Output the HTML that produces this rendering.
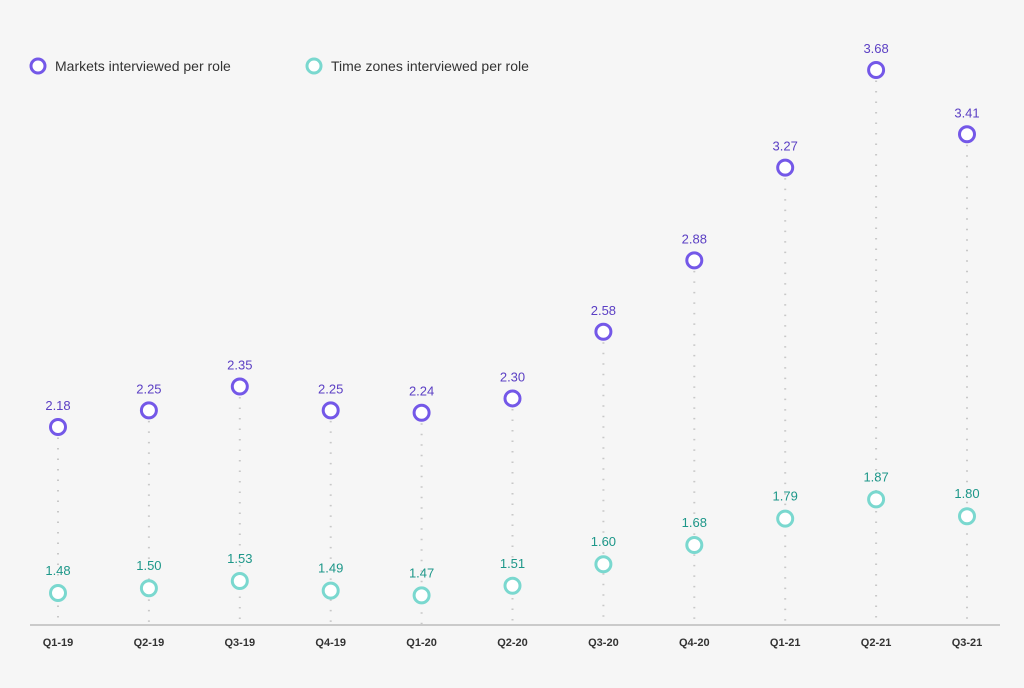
<!DOCTYPE html><html><head><style>body{margin:0;background:#f6f6f6}</style></head><body>
<svg width="1024" height="683" xmlns="http://www.w3.org/2000/svg" font-family="Liberation Sans, sans-serif">
<rect width="1024" height="683" fill="#f6f6f6"/>
<circle cx="38" cy="66" r="7" fill="#fff" stroke="#7458e8" stroke-width="3"/>
<text x="55" y="71" font-size="14" fill="#333">Markets interviewed per role</text>
<circle cx="314" cy="66" r="7" fill="#fff" stroke="#7ad8cf" stroke-width="3"/>
<text x="331" y="71" font-size="14" fill="#333">Time zones interviewed per role</text>
<line x1="30" y1="625" x2="1000" y2="625" stroke="#bbb" stroke-width="1.5"/>
<g id="g"></g>
</svg>
<script>
var L=["Q1-19","Q2-19","Q3-19","Q4-19","Q1-20","Q2-20","Q3-20","Q4-20","Q1-21","Q2-21","Q3-21"];
var P=[2.18,2.25,2.35,2.25,2.24,2.30,2.58,2.88,3.27,3.68,3.41];
var T=[1.48,1.50,1.53,1.49,1.47,1.51,1.60,1.68,1.79,1.87,1.80];
var s="";
for(var i=0;i<11;i++){var x=58+i*90.9;var yp=427-(P[i]-2.18)*238;var yt=593-(T[i]-1.48)*240;
s+='<line x1="'+x+'" y1="'+yp+'" x2="'+x+'" y2="624" stroke="#c8c8c8" stroke-width="2" stroke-dasharray="1.5 9"/>';
s+='<circle cx="'+x+'" cy="'+yp+'" r="7.5" fill="#fff" stroke="#7458e8" stroke-width="3"/>';
s+='<circle cx="'+x+'" cy="'+yt+'" r="7.5" fill="#fff" stroke="#7ad8cf" stroke-width="3"/>';
s+='<text x="'+x+'" y="'+(yp-17)+'" font-size="13" text-anchor="middle" fill="#5b3fc4">'+P[i].toFixed(2)+'</text>';
s+='<text x="'+x+'" y="'+(yt-18)+'" font-size="13" text-anchor="middle" fill="#1d9789">'+T[i].toFixed(2)+'</text>';
s+='<text x="'+x+'" y="646" font-size="11" font-weight="bold" text-anchor="middle" fill="#333">'+L[i]+'</text>';}
document.getElementById("g").innerHTML=s;
</script>
</body></html>
